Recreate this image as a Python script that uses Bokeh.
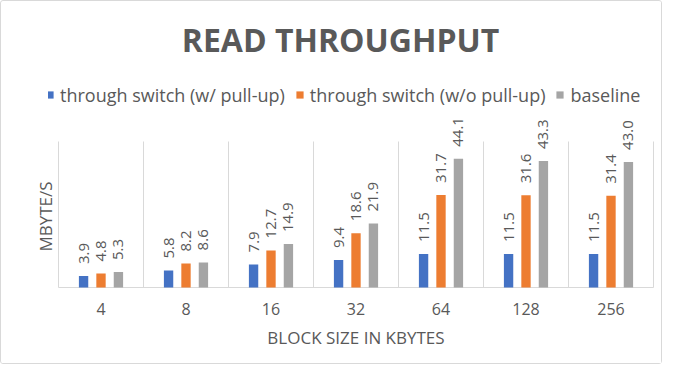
import math
from bokeh.plotting import figure
from bokeh.models import (ColumnDataSource, Legend, LegendItem, FactorRange,
                          Range1d, FixedTicker, Label)
from bokeh.transform import dodge
from bokeh.core.properties import value
from bokeh.embed import file_html
from bokeh.resources import INLINE

# ---- data ----
block_sizes = ["4", "8", "16", "32", "64", "128", "256"]
with_pullup = [3.9, 5.8, 7.9, 9.4, 11.5, 11.5, 11.5]
without_pullup = [4.8, 8.2, 12.7, 18.6, 31.7, 31.6, 31.4]
baseline = [5.3, 8.6, 14.9, 21.9, 44.1, 43.3, 43.0]
series_names = ["through switch (w/ pull-up)", "through switch (w/o pull-up)", "baseline"]
series_colors = ["#4472C4", "#ED7D31", "#A5A5A5"]
title_text = "READ THROUGHPUT"
x_title = "BLOCK SIZE IN KBYTES"
y_title = "MBYTE/S"
y_axis_max = 50

FONT = "Open Sans"
TXT = "#595959"
GRID = "#D9D9D9"

series = [with_pullup, without_pullup, baseline]
data = dict(cat=block_sizes)
for i, s in enumerate(series):
    data[f"s{i}"] = s
    data[f"l{i}"] = [f"{v:.1f}" for v in s]
src = ColumnDataSource(data)

# layout (pixels): category area x 57..652, value 0 at y=286, value 50 at y=140
W, H = 662, 364
PAD_PX = 10                      # extra frame room on each side of the categories
FRAME_LEFT = 57 - PAD_PX
FRAME_TOP, ZERO_Y, VAL_TOP = 8, 286, 140
FRAME_BOTTOM = ZERO_Y + 1
px_per_unit = (ZERO_Y - VAL_TOP) / y_axis_max
y_start = -(FRAME_BOTTOM - ZERO_Y) / px_per_unit
y_end = (ZERO_Y - FRAME_TOP) / px_per_unit
cat_px = (652 - 57) / len(block_sizes)
Y_TITLE_CENTER_PX = 215          # vertical centre of the y title

p = figure(width=W, height=H,
           x_range=FactorRange(*block_sizes, range_padding=PAD_PX / cat_px,
                               range_padding_units="absolute"),
           y_range=Range1d(y_start, y_end),
           output_backend="svg", toolbar_location=None,
           min_border_left=FRAME_LEFT, min_border_right=W - 652 - PAD_PX,
           min_border_top=FRAME_TOP, min_border_bottom=H - FRAME_BOTTOM)
p.outline_line_color = None
p.xgrid.visible = False
p.ygrid.visible = False
p.styles = {"border": "1px solid #D9D9D9", "border-radius": "3px"}

# category boundary lines
p.segment(x0=dodge("cat", -0.5, range=p.x_range), y0=0,
          x1=dodge("cat", -0.5, range=p.x_range), y1=y_axis_max,
          source=src, line_color=GRID, line_width=1)
last_src = ColumnDataSource(dict(cat=[block_sizes[-1]]))
p.segment(x0=dodge("cat", 0.5, range=p.x_range), y0=0,
          x1=dodge("cat", 0.5, range=p.x_range), y1=y_axis_max,
          source=last_src, line_color=GRID, line_width=1)
# horizontal axis line across the categories
ends_src = ColumnDataSource(dict(c0=[block_sizes[0]], c1=[block_sizes[-1]]))
p.segment(x0=dodge("c0", -0.5, range=p.x_range), y0=0,
          x1=dodge("c1", 0.5, range=p.x_range), y1=0,
          source=ends_src, line_color=GRID, line_width=1)

offsets = [-0.205, 0.0, 0.205]
items = []
for i, off in enumerate(offsets):
    r = p.vbar(x=dodge("cat", off, range=p.x_range), top=f"s{i}", width=0.11,
               source=src, fill_color=series_colors[i], line_color=None)
    items.append(LegendItem(label=series_names[i], renderers=[r]))
    p.text(x=dodge("cat", off, range=p.x_range), y=f"s{i}", text=f"l{i}",
           source=src, angle=math.pi / 2, text_align="left", text_baseline="middle",
           y_offset=-12, text_font=value(FONT), text_font_size="15px", text_color=TXT)

ax = p.xaxis[0]
ax.axis_line_color = None
ax.major_tick_line_color = None
ax.minor_tick_line_color = None
ax.major_tick_out = 0
ax.major_label_standoff = 14
ax.major_label_text_font = FONT
ax.major_label_text_font_size = "16px"
ax.major_label_text_color = TXT
ax.axis_label = x_title
ax.axis_label_standoff = 8
ax.axis_label_text_font = FONT
ax.axis_label_text_font_size = "17px"
ax.axis_label_text_font_style = "normal"
ax.axis_label_text_color = TXT

# y title drawn as a single vertical tick label, centred on its tick
y_title_at = (ZERO_Y - Y_TITLE_CENTER_PX) / px_per_unit
ay = p.yaxis[0]
ay.ticker = FixedTicker(ticks=[y_title_at])
ay.major_label_overrides = {y_title_at: y_title}
ay.major_label_orientation = "vertical"
ay.axis_line_color = None
ay.major_tick_line_color = None
ay.minor_tick_line_color = None
ay.major_tick_out = 0
ay.major_tick_in = 0
ay.major_label_standoff = -8
ay.major_label_text_font = FONT
ay.major_label_text_font_size = "17px"
ay.major_label_text_color = TXT

legend = Legend(items=items, orientation="horizontal",
                location=(-3, FRAME_BOTTOM - 105.5),
                glyph_width=9, glyph_height=9, label_standoff=6, spacing=10,
                padding=0, margin=0, border_line_color=None, background_fill_alpha=0,
                label_text_font=FONT, label_text_font_size="18px", label_text_color=TXT)
p.add_layout(legend)

p.add_layout(Label(x=339 - FRAME_LEFT, y=FRAME_BOTTOM - 37.5,
                   x_units="screen", y_units="screen", text=title_text,
                   text_align="center", text_baseline="alphabetic",
                   text_font=FONT, text_font_size="32px", text_font_style="bold",
                   text_color=TXT))

open("out.html", "w").write(file_html(p, INLINE))
